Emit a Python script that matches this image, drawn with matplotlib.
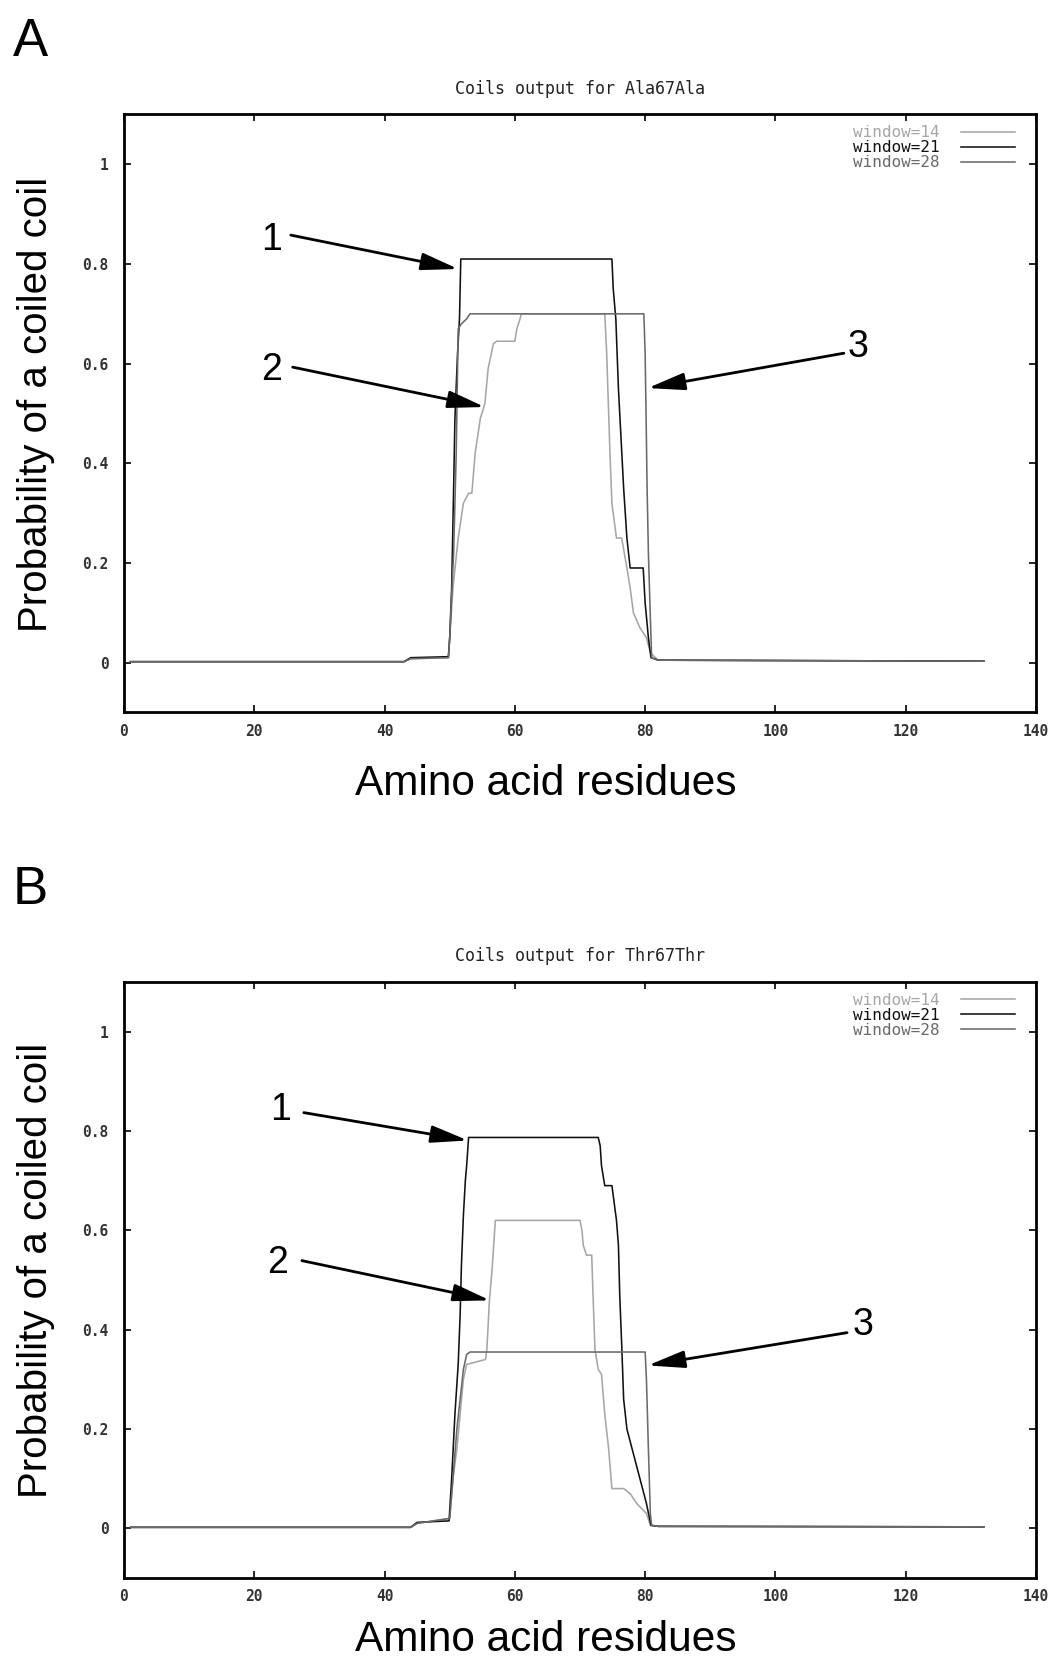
import matplotlib
matplotlib.use("Agg")
import matplotlib.pyplot as plt

# ---------------- data ----------------
series_labels = ["window=14", "window=21", "window=28"]
x_ticks = [0, 20, 40, 60, 80, 100, 120, 140]
y_ticks = [0, 0.2, 0.4, 0.6, 0.8, 1]
x_tick_labels = ["0", "20", "40", "60", "80", "100", "120", "140"]
y_tick_labels = ["0", "0.2", "0.4", "0.6", "0.8", "1"]

# Panel A (Ala67Ala)
a_w14_x = [1, 43, 44, 49.8, 50.0, 50.5, 51.3, 52.1, 52.9, 53.4, 53.9, 54.7, 55.4, 55.9, 56.7, 57.2,
           60.0, 60.3, 60.8, 61.0, 73.8, 74.1, 74.6, 74.9, 75.6, 76.4, 77.2, 77.7, 78.2, 79.2,
           80.2, 80.8, 82, 132]
a_w14_y = [0.002, 0.002, 0.008, 0.01, 0.05, 0.15, 0.25, 0.32, 0.34, 0.34, 0.42, 0.49, 0.52, 0.59,
           0.64, 0.645, 0.645, 0.67, 0.69, 0.70, 0.70, 0.62, 0.42, 0.32, 0.25, 0.25, 0.19, 0.15,
           0.10, 0.07, 0.05, 0.02, 0.005, 0.003]
a_w21_x = [1, 43, 44, 49.8, 50.0, 50.3, 50.6, 50.8, 51.2, 51.5, 51.7, 74.9, 75.1, 75.5, 75.9,
           76.3, 76.7, 77.2, 77.7, 79.7, 80.0, 80.5, 80.9, 82, 132]
a_w21_y = [0.002, 0.002, 0.01, 0.012, 0.05, 0.15, 0.35, 0.49, 0.62, 0.69, 0.81, 0.81, 0.75, 0.69,
           0.55, 0.45, 0.35, 0.25, 0.19, 0.19, 0.12, 0.05, 0.01, 0.005, 0.003]
a_w28_x = [1, 43, 44, 49.8, 50.0, 50.6, 51.0, 51.3, 51.8, 52.6, 53.1, 79.8, 80.0, 80.15, 80.3,
           80.5, 80.8, 81.0, 82, 132]
a_w28_y = [0.002, 0.002, 0.008, 0.01, 0.05, 0.22, 0.42, 0.67, 0.68, 0.69, 0.70, 0.70, 0.62, 0.49,
           0.35, 0.22, 0.09, 0.01, 0.005, 0.003]

# Panel B (Thr67Thr)
b_w14_x = [1, 44, 45, 50.0, 50.5, 51.1, 51.6, 52.1, 52.6, 55.5, 55.7, 56.1, 56.5, 56.8, 57.0,
           70.0, 70.3, 70.5, 71.0, 71.8, 72.0, 72.3, 72.8, 73.3, 73.8, 74.4, 74.9, 76.7, 77.7,
           78.7, 80.2, 80.8, 82, 132]
b_w14_y = [0.002, 0.002, 0.01, 0.02, 0.10, 0.16, 0.23, 0.30, 0.33, 0.34, 0.36, 0.46, 0.52, 0.58,
           0.62, 0.62, 0.60, 0.57, 0.55, 0.55, 0.47, 0.36, 0.32, 0.31, 0.23, 0.16, 0.08, 0.08,
           0.07, 0.05, 0.03, 0.006, 0.004, 0.003]
b_w21_x = [1, 44, 45, 49.9, 50.3, 50.8, 51.3, 51.6, 51.8, 52.1, 52.4, 52.6, 52.9, 72.8, 73.1,
           73.3, 73.8, 74.9, 75.1, 75.6, 75.9, 76.1, 76.4, 76.7, 77.2, 78.2, 79.2, 80.2, 80.9,
           82, 132]
b_w21_y = [0.002, 0.002, 0.012, 0.015, 0.10, 0.23, 0.33, 0.43, 0.53, 0.63, 0.70, 0.73, 0.787,
           0.787, 0.77, 0.73, 0.69, 0.69, 0.67, 0.62, 0.57, 0.47, 0.37, 0.26, 0.20, 0.15, 0.10,
           0.05, 0.006, 0.004, 0.003]
b_w28_x = [1, 44, 45, 50.0, 50.5, 51.1, 51.6, 52.1, 52.6, 53.1, 80.0, 80.2, 80.5, 80.8, 81.0,
           82, 132]
b_w28_y = [0.002, 0.002, 0.01, 0.02, 0.10, 0.20, 0.26, 0.32, 0.35, 0.355, 0.355, 0.30, 0.16,
           0.03, 0.006, 0.004, 0.003]

# arrow annotations: (label, text_xy, tail_xy, tip_xy) in data coords
a_arrows = [("1", (22.6, 0.848), (25.6, 0.858), (51.3, 0.79)),
            ("2", (22.7, 0.587), (25.9, 0.593), (55.4, 0.513)),
            ("3", (112.7, 0.633), (110.5, 0.621), (80.4, 0.551))]
b_arrows = [("1", (24.1, 0.843), (27.6, 0.837), (52.8, 0.781)),
            ("2", (23.6, 0.535), (27.3, 0.539), (56.2, 0.459)),
            ("3", (113.5, 0.41), (111.0, 0.394), (80.4, 0.328))]

colors = ["#a6a6a6", "#111111", "#6a6a6a"]
mono = ["DejaVu Sans Mono"]
sans = ["Liberation Sans", "DejaVu Sans"]

W, H = 1058, 1660
fig = plt.figure(figsize=(W / 100, H / 100), dpi=100)
fig.patch.set_facecolor("white")


def panel(top_px, bottom_px, title, data, arrows, letter, letter_y, xlabel_y, ylabel_y):
    ax = fig.add_axes([124 / W, 1 - bottom_px / H, (1036 - 124) / W, (bottom_px - top_px) / H])
    for (xs, ys), c, lab in zip(data, colors, series_labels):
        ax.plot(xs, ys, color=c, lw=1.15, label=lab)
    ax.set_xlim(0, 140)
    ax.set_ylim(-0.1, 1.1)
    ax.set_xticks(x_ticks)
    ax.set_xticklabels(x_tick_labels)
    ax.set_yticks(y_ticks)
    ax.set_yticklabels(y_tick_labels)
    ax.tick_params(direction="in", top=True, right=True, length=5, width=1.2,
                   labelsize=10.5, labelcolor="#333333")
    ax.tick_params(axis="x", pad=8)
    ax.tick_params(axis="y", pad=11)
    for lbl in ax.get_xticklabels() + ax.get_yticklabels():
        lbl.set_family(mono)
        lbl.set_weight("bold")
    for sp in ax.spines.values():
        sp.set_linewidth(2.0)
    ax.set_title(title, family=mono, fontsize=12, color="#222222", pad=15)
    leg = ax.legend(loc="upper right", bbox_to_anchor=(0.977, 0.982), frameon=False,
                    markerfirst=False, handlelength=3.4, handletextpad=1.3,
                    labelspacing=0.0, borderaxespad=0, borderpad=0,
                    prop={"family": mono, "size": 11.5})
    for t, c in zip(leg.get_texts(), colors):
        t.set_color(c)
    for lab, txy, tail, tip in arrows:
        ax.annotate("", xy=tip, xytext=tail,
                    arrowprops=dict(arrowstyle="-|>,head_length=1.5,head_width=0.35",
                                    lw=2, color="black", mutation_scale=15,
                                    shrinkA=0, shrinkB=0))
        ax.text(txy[0], txy[1], lab, fontsize=27, family=sans, ha="center", va="center")
    fig.text(36 / W, 1 - ylabel_y / H, "Probability of a coiled coil", family=sans,
             fontsize=29, rotation=90, ha="center", va="center")
    fig.text(546 / W, 1 - xlabel_y / H, "Amino acid residues", family=sans, fontsize=30.5,
             ha="center", va="center")
    fig.text(30 / W, 1 - letter_y / H, letter, family=sans, fontsize=38, ha="center",
             va="center")
    return ax


panel(114.5, 712.5, "Coils output for Ala67Ala",
      [(a_w14_x, a_w14_y), (a_w21_x, a_w21_y), (a_w28_x, a_w28_y)], a_arrows, "A", 42, 784, 404)
panel(982, 1578, "Coils output for Thr67Thr",
      [(b_w14_x, b_w14_y), (b_w21_x, b_w21_y), (b_w28_x, b_w28_y)], b_arrows, "B", 890, 1640, 1270)

fig.savefig("out.png", dpi=100)
